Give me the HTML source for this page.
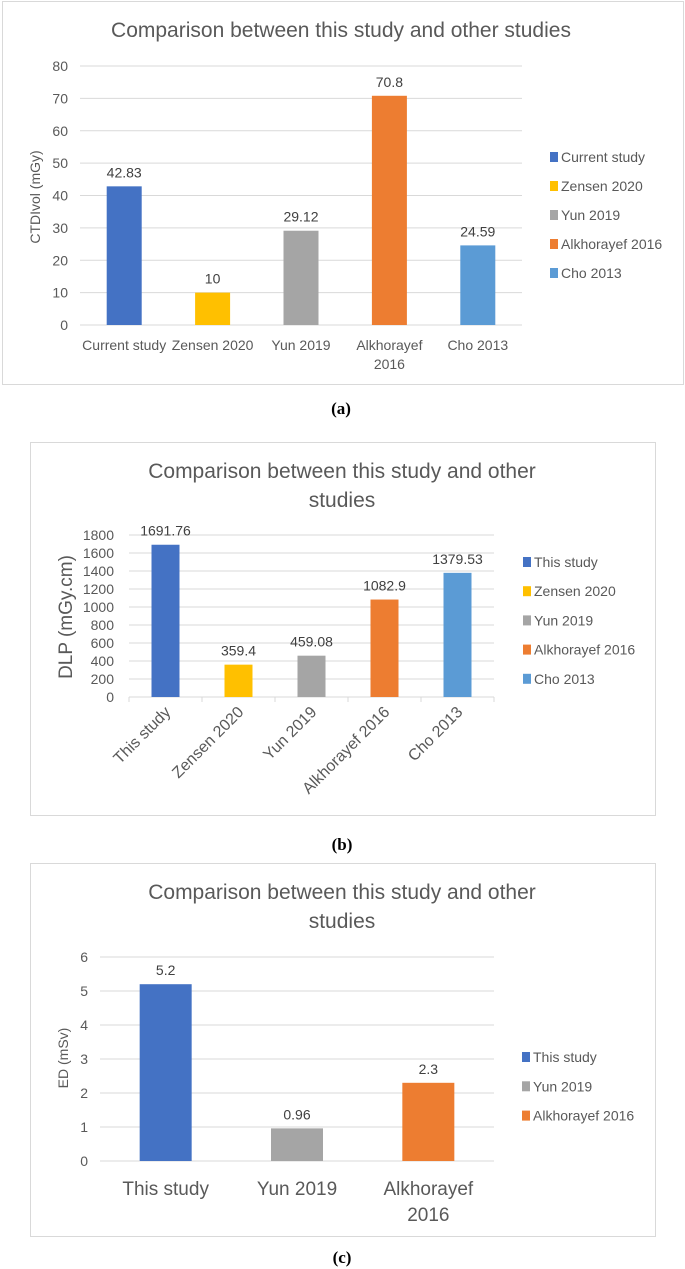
<!DOCTYPE html>
<html><head><meta charset="utf-8">
<style>
body{margin:0;background:#fff;}
svg{display:block;font-family:"Liberation Sans",sans-serif;}
</style></head>
<body>
<svg id="fig" width="685" height="1269" viewBox="0 0 685 1269" xmlns="http://www.w3.org/2000/svg">
<rect x="0" y="0" width="685" height="1269" fill="#fff"/>
<rect x="2.5" y="1.5" width="681" height="383" fill="#fff" stroke="#d9d9d9"/>
<rect x="30.5" y="442.5" width="625" height="373" fill="#fff" stroke="#d9d9d9"/>
<rect x="30.5" y="863.5" width="625" height="373" fill="#fff" stroke="#d9d9d9"/>
<text x="341" y="37" text-anchor="middle" font-size="21" fill="#595959">Comparison between this study and other studies</text>
<text x="342" y="478" text-anchor="middle" font-size="21" fill="#595959">Comparison between this study and other</text>
<text x="342" y="507" text-anchor="middle" font-size="21" fill="#595959">studies</text>
<text x="342" y="899" text-anchor="middle" font-size="21" fill="#595959">Comparison between this study and other</text>
<text x="342" y="928" text-anchor="middle" font-size="21" fill="#595959">studies</text>
<text x="341" y="414" text-anchor="middle" font-size="17" font-weight="bold" font-family="Liberation Serif, serif" fill="#000">(a)</text>
<text x="342" y="850" text-anchor="middle" font-size="17" font-weight="bold" font-family="Liberation Serif, serif" fill="#000">(b)</text>
<text x="342" y="1263" text-anchor="middle" font-size="17" font-weight="bold" font-family="Liberation Serif, serif" fill="#000">(c)</text>
<text transform="translate(40,197) rotate(-90)" text-anchor="middle" font-size="14" fill="#595959">CTDIvol (mGy)</text>
<text transform="translate(72,617) rotate(-90)" text-anchor="middle" font-size="19" fill="#595959">DLP (mGy.cm)</text>
<text transform="translate(68,1058) rotate(-90)" text-anchor="middle" font-size="14" fill="#595959">ED (mSv)</text>
</svg>
<script>
const aCategories = ["Current study","Zensen 2020","Yun 2019","Alkhorayef 2016","Cho 2013"];
const aValues = [42.83, 10, 29.12, 70.8, 24.59];
const aLabels = ["42.83","10","29.12","70.8","24.59"];
const aTicks = [0,10,20,30,40,50,60,70,80];

const bCategories = ["This study","Zensen 2020","Yun 2019","Alkhorayef 2016","Cho 2013"];
const bValues = [1691.76, 359.4, 459.08, 1082.9, 1379.53];
const bLabels = ["1691.76","359.4","459.08","1082.9","1379.53"];
const bTicks = [0,200,400,600,800,1000,1200,1400,1600,1800];

const cCategories = ["This study","Yun 2019","Alkhorayef 2016"];
const cValues = [5.2, 0.96, 2.3];
const cLabels = ["5.2","0.96","2.3"];
const cTicks = [0,1,2,3,4,5,6];

const svg = document.getElementById('fig');
const NS = 'http://www.w3.org/2000/svg';
function mk(tag, attrs, text) {
  const e = document.createElementNS(NS, tag);
  for (const k in attrs) e.setAttribute(k, attrs[k]);
  if (text !== undefined) e.textContent = text;
  svg.appendChild(e);
  return e;
}
function draw(cfg, cats, vals, labels, ticks, colors) {
  const max = ticks[ticks.length - 1];
  const y = v => cfg.y0 - (v / max) * (cfg.y0 - cfg.yTop);
  const n = cats.length;
  const cw = (cfg.x1 - cfg.x0) / n;
  const xc = i => cfg.x0 + cw * (i + 0.5);
  ticks.forEach(t => {
    const g = mk('line', {x1: cfg.x0, x2: cfg.x1, y1: y(t), y2: y(t), stroke: '#d9d9d9', 'stroke-width': 1});
    
    
    const tl = mk('text', {x: cfg.tickX, y: y(t) + 5, 'text-anchor': 'end', 'font-size': cfg.tickFs, fill: '#595959'}, String(t));
    
    
  });
  if (cfg.tickMarks) {
    for (let i = 0; i <= n; i++) {
      const tm = mk('line', {x1: cfg.x0 + cw * i, x2: cfg.x0 + cw * i, y1: cfg.y0, y2: cfg.y0 + 5, stroke: '#d9d9d9'});
      
      
    }
  }
  cats.forEach((c, i) => {
    const r = mk('rect', {x: xc(i) - cfg.bw / 2, y: y(vals[i]), width: cfg.bw, height: cfg.y0 - y(vals[i]), fill: colors[i]});
    
    
    const vl = mk('text', {x: xc(i), y: y(vals[i]) - 9, 'text-anchor': 'middle', 'font-size': cfg.valFs, fill: '#404040'}, labels[i]);
    
    
    if (cfg.rotate) {
      const xl = mk('text', {'text-anchor': 'end', 'font-size': cfg.catFs, fill: '#595959', transform: 'translate(' + (xc(i) + 6) + ',' + (cfg.y0 + 16) + ') rotate(-45)'}, c);
      
      
    } else {
      const parts = (cfg.wrap && cfg.wrap[c]) ? cfg.wrap[c] : [c];
      parts.forEach((p, k) => {
        const xl = mk('text', {x: xc(i), y: cfg.catY + k * cfg.catLh, 'text-anchor': 'middle', 'font-size': cfg.catFs, fill: '#595959'}, p);
        
        
      });
    }
    const ly = cfg.legY + i * cfg.legDy;
    const sq = mk('rect', {x: cfg.legX, y: ly - 5, width: 8, height: 10, fill: colors[i]});
    
    
    const lt = mk('text', {x: cfg.legX + 11, y: ly + 5, 'font-size': 14, fill: '#595959'}, c);
    
    
  });
}
const COL = {blue:'#4472C4', yellow:'#FFC000', gray:'#A5A5A5', orange:'#ED7D31', lblue:'#5B9BD5'};
draw({id:'chart-a', x0:80, x1:522, y0:325, yTop:66, bw:35, tickX:68, tickFs:14, valFs:14, catFs:14, catY:350, catLh:19,
      wrap:{'Alkhorayef 2016':['Alkhorayef','2016']}, legX:550, legY:157, legDy:29},
     aCategories, aValues, aLabels, aTicks, [COL.blue, COL.yellow, COL.gray, COL.orange, COL.lblue]);
draw({id:'chart-b', x0:129, x1:494, y0:697, yTop:535, bw:28, tickX:114, tickFs:14, valFs:14, catFs:16, rotate:true, tickMarks:true,
      legX:523, legY:562, legDy:29.2},
     bCategories, bValues, bLabels, bTicks, [COL.blue, COL.yellow, COL.gray, COL.orange, COL.lblue]);
draw({id:'chart-c', x0:100, x1:494, y0:1161, yTop:957, bw:52, tickX:88, tickFs:14, valFs:14, catFs:19, catY:1195, catLh:26,
      wrap:{'Alkhorayef 2016':['Alkhorayef','2016']}, legX:522, legY:1057, legDy:29.3},
     cCategories, cValues, cLabels, cTicks, [COL.blue, COL.gray, COL.orange]);
</script>
</body></html>
